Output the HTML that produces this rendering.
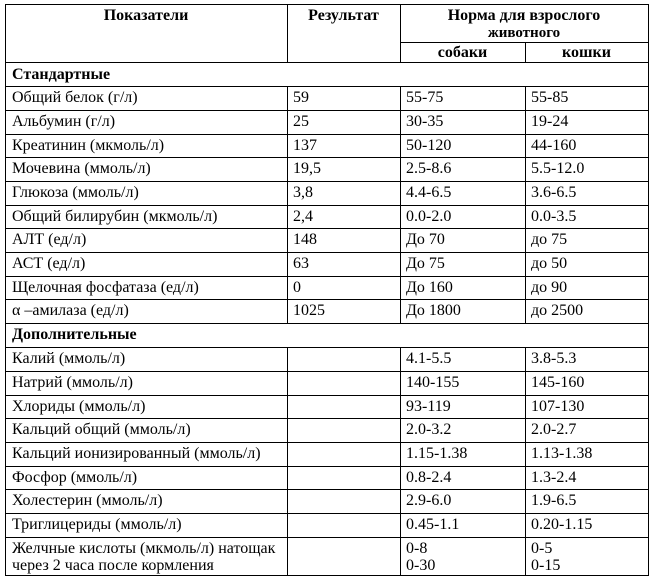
<!DOCTYPE html>
<html><head><meta charset="utf-8"><style>
body{margin:0;width:653px;height:580px;background:#fff;position:relative;overflow:hidden;font-family:"Liberation Serif",serif;font-size:16px;color:#000}
.h{position:absolute;height:1px;background:#000}
.v{position:absolute;width:1px;background:#000}
.t{position:absolute;white-space:nowrap;line-height:17px}
.b{font-weight:bold}
.c{text-align:center}
</style></head><body>
<div class="h" style="left:5px;width:644px;top:4px"></div>
<div class="h" style="left:400px;width:249px;top:42px"></div>
<div class="h" style="left:5px;width:644px;top:62px"></div>
<div class="h" style="left:5px;width:644px;top:86px"></div>
<div class="h" style="left:5px;width:644px;top:110px"></div>
<div class="h" style="left:5px;width:644px;top:134px"></div>
<div class="h" style="left:5px;width:644px;top:157px"></div>
<div class="h" style="left:5px;width:644px;top:181px"></div>
<div class="h" style="left:5px;width:644px;top:205px"></div>
<div class="h" style="left:5px;width:644px;top:228px"></div>
<div class="h" style="left:5px;width:644px;top:252px"></div>
<div class="h" style="left:5px;width:644px;top:276px"></div>
<div class="h" style="left:5px;width:644px;top:299px"></div>
<div class="h" style="left:5px;width:644px;top:323px"></div>
<div class="h" style="left:5px;width:644px;top:347px"></div>
<div class="h" style="left:5px;width:644px;top:371px"></div>
<div class="h" style="left:5px;width:644px;top:395px"></div>
<div class="h" style="left:5px;width:644px;top:418px"></div>
<div class="h" style="left:5px;width:644px;top:442px"></div>
<div class="h" style="left:5px;width:644px;top:466px"></div>
<div class="h" style="left:5px;width:644px;top:489px"></div>
<div class="h" style="left:5px;width:644px;top:513px"></div>
<div class="h" style="left:5px;width:644px;top:537px"></div>
<div class="h" style="left:5px;width:644px;top:575px"></div>
<div class="v" style="left:5px;top:4px;height:572px"></div>
<div class="v" style="left:648px;top:4px;height:572px"></div>
<div class="v" style="left:287px;top:4px;height:58px"></div>
<div class="v" style="left:400px;top:4px;height:58px"></div>
<div class="v" style="left:525px;top:42px;height:20px"></div>
<div class="v" style="left:287px;top:86px;height:237px"></div>
<div class="v" style="left:400px;top:86px;height:237px"></div>
<div class="v" style="left:525px;top:86px;height:237px"></div>
<div class="v" style="left:287px;top:347px;height:228px"></div>
<div class="v" style="left:400px;top:347px;height:228px"></div>
<div class="v" style="left:525px;top:347px;height:228px"></div>
<div class="t b c" style="left:5px;width:282px;top:7px">Показатели</div>
<div class="t b c" style="left:287px;width:113px;top:7px">Результат</div>
<div class="t b c" style="left:400px;width:248px;top:7px">Норма для взрослого</div>
<div class="t b c" style="left:400px;width:248px;top:25px;font-size:15px">животного</div>
<div class="t b c" style="left:400px;width:125px;top:44px">собаки</div>
<div class="t b c" style="left:525px;width:123px;top:44px">кошки</div>
<div class="t b" style="left:12px;top:66px">Стандартные</div>
<div class="t" style="left:12px;top:89px">Общий белок (г/л)</div><div class="t" style="left:293px;top:89px">59</div><div class="t" style="left:406px;top:89px">55-75</div><div class="t" style="left:531px;top:89px">55-85</div>
<div class="t" style="left:12px;top:113px">Альбумин (г/л)</div><div class="t" style="left:293px;top:113px">25</div><div class="t" style="left:406px;top:113px">30-35</div><div class="t" style="left:531px;top:113px">19-24</div>
<div class="t" style="left:12px;top:137px">Креатинин (мкмоль/л)</div><div class="t" style="left:293px;top:137px">137</div><div class="t" style="left:406px;top:137px">50-120</div><div class="t" style="left:531px;top:137px">44-160</div>
<div class="t" style="left:12px;top:160px">Мочевина (ммоль/л)</div><div class="t" style="left:293px;top:160px">19,5</div><div class="t" style="left:406px;top:160px">2.5-8.6</div><div class="t" style="left:531px;top:160px">5.5-12.0</div>
<div class="t" style="left:12px;top:184px">Глюкоза (ммоль/л)</div><div class="t" style="left:293px;top:184px">3,8</div><div class="t" style="left:406px;top:184px">4.4-6.5</div><div class="t" style="left:531px;top:184px">3.6-6.5</div>
<div class="t" style="left:12px;top:208px">Общий билирубин (мкмоль/л)</div><div class="t" style="left:293px;top:208px">2,4</div><div class="t" style="left:406px;top:208px">0.0-2.0</div><div class="t" style="left:531px;top:208px">0.0-3.5</div>
<div class="t" style="left:12px;top:231px">АЛТ (ед/л)</div><div class="t" style="left:293px;top:231px">148</div><div class="t" style="left:406px;top:231px">До 70</div><div class="t" style="left:531px;top:231px">до 75</div>
<div class="t" style="left:12px;top:255px">АСТ (ед/л)</div><div class="t" style="left:293px;top:255px">63</div><div class="t" style="left:406px;top:255px">До 75</div><div class="t" style="left:531px;top:255px">до 50</div>
<div class="t" style="left:12px;top:279px">Щелочная фосфатаза (ед/л)</div><div class="t" style="left:293px;top:279px">0</div><div class="t" style="left:406px;top:279px">До 160</div><div class="t" style="left:531px;top:279px">до 90</div>
<div class="t" style="left:12px;top:302px">α –амилаза (ед/л)</div><div class="t" style="left:293px;top:302px">1025</div><div class="t" style="left:406px;top:302px">До 1800</div><div class="t" style="left:531px;top:302px">до 2500</div>
<div class="t b" style="left:12px;top:326px">Дополнительные</div>
<div class="t" style="left:12px;top:350px">Калий (ммоль/л)</div><div class="t" style="left:406px;top:350px">4.1-5.5</div><div class="t" style="left:531px;top:350px">3.8-5.3</div>
<div class="t" style="left:12px;top:374px">Натрий (ммоль/л)</div><div class="t" style="left:406px;top:374px">140-155</div><div class="t" style="left:531px;top:374px">145-160</div>
<div class="t" style="left:12px;top:398px">Хлориды (ммоль/л)</div><div class="t" style="left:406px;top:398px">93-119</div><div class="t" style="left:531px;top:398px">107-130</div>
<div class="t" style="left:12px;top:421px">Кальций общий (ммоль/л)</div><div class="t" style="left:406px;top:421px">2.0-3.2</div><div class="t" style="left:531px;top:421px">2.0-2.7</div>
<div class="t" style="left:12px;top:445px">Кальций ионизированный (ммоль/л)</div><div class="t" style="left:406px;top:445px">1.15-1.38</div><div class="t" style="left:531px;top:445px">1.13-1.38</div>
<div class="t" style="left:12px;top:469px">Фосфор (ммоль/л)</div><div class="t" style="left:406px;top:469px">0.8-2.4</div><div class="t" style="left:531px;top:469px">1.3-2.4</div>
<div class="t" style="left:12px;top:492px">Холестерин (ммоль/л)</div><div class="t" style="left:406px;top:492px">2.9-6.0</div><div class="t" style="left:531px;top:492px">1.9-6.5</div>
<div class="t" style="left:12px;top:516px">Триглицериды (ммоль/л)</div><div class="t" style="left:406px;top:516px">0.45-1.1</div><div class="t" style="left:531px;top:516px">0.20-1.15</div>
<div class="t" style="left:12px;top:540px">Желчные кислоты (мкмоль/л) натощак</div><div class="t" style="left:406px;top:540px">0-8</div><div class="t" style="left:531px;top:540px">0-5</div>
<div class="t" style="left:12px;top:557px">через 2 часа после кормления</div><div class="t" style="left:406px;top:557px">0-30</div><div class="t" style="left:531px;top:557px">0-15</div>
</body></html>
